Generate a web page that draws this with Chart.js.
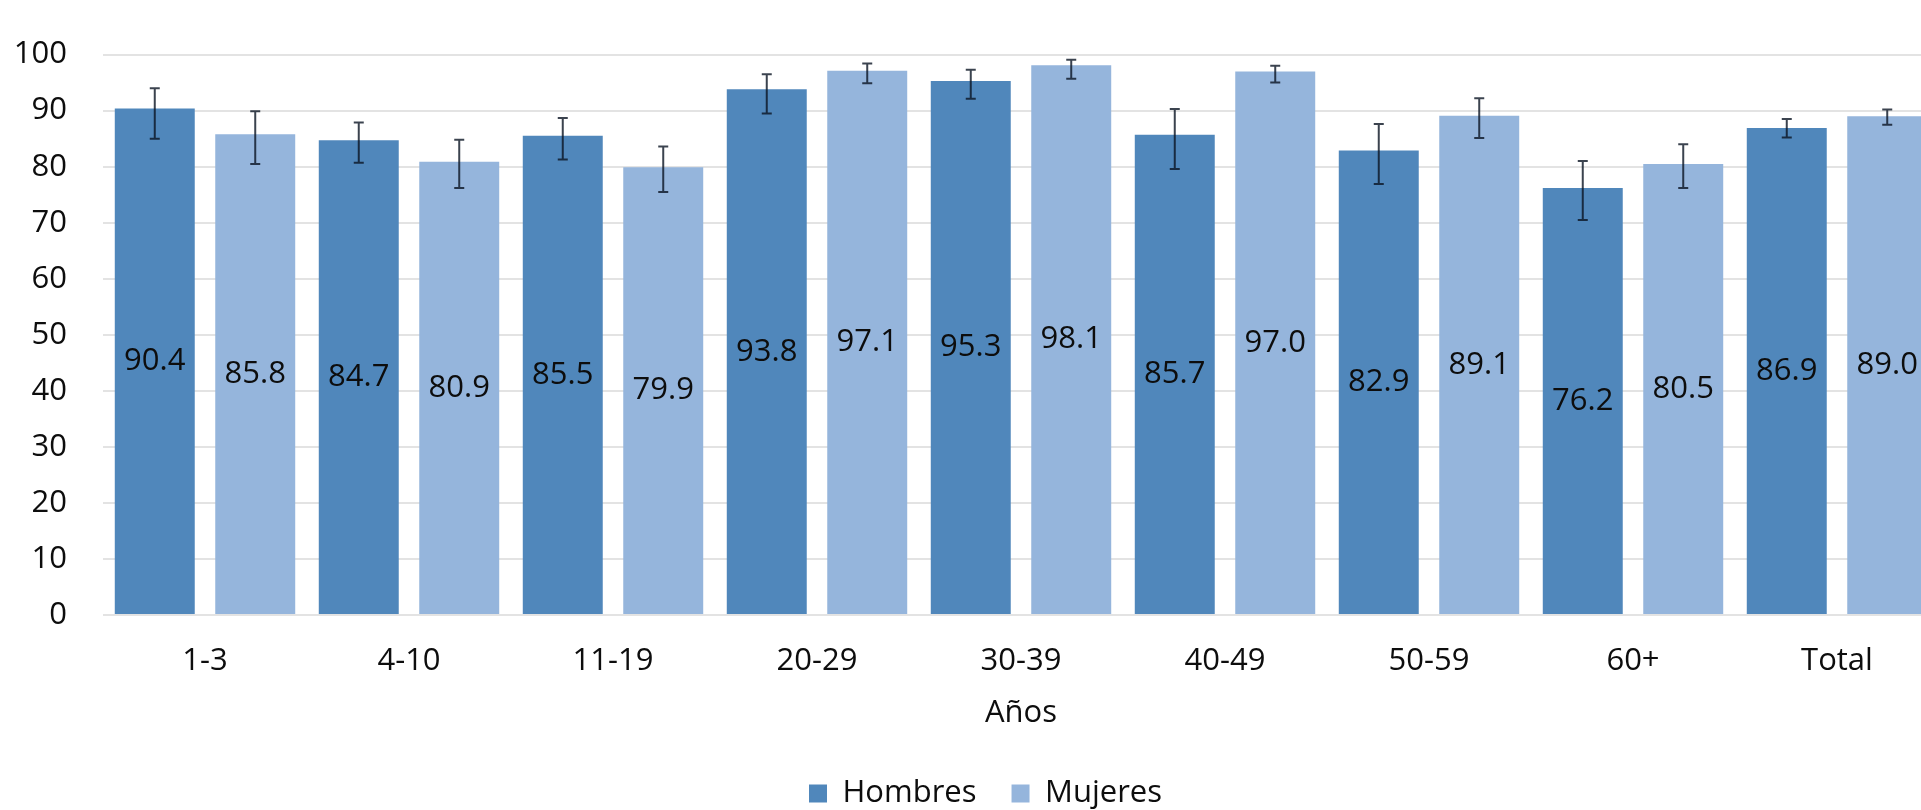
<!DOCTYPE html>
<html>
<head>
<meta charset="utf-8">
<script src="https://cdn.jsdelivr.net/npm/chart.js@4.4.1/dist/chart.umd.min.js"></script>
<style>
  html, body { margin: 0; padding: 0; background: #fff; overflow: hidden; }
  #wrap { width: 1970px; height: 810px; }
</style>
</head>
<body>
<div id="wrap"><canvas id="chart" width="1970" height="810"></canvas></div>
<script>
const categories  = ['1-3', '4-10', '11-19', '20-29', '30-39', '40-49', '50-59', '60+', 'Total'];
const hombres     = [90.4, 84.7, 85.5, 93.8, 95.3, 85.7, 82.9, 76.2, 86.9];
const mujeres     = [85.8, 80.9, 79.9, 97.1, 98.1, 97.0, 89.1, 80.5, 89.0];
// error bar bounds
const hombresLow  = [85.0, 80.7, 81.3, 89.5, 92.1, 79.6, 76.9, 70.5, 85.2];
const hombresHigh = [94.0, 87.9, 88.7, 96.5, 97.3, 90.3, 87.6, 81.0, 88.5];
const mujeresLow  = [80.5, 76.2, 75.5, 94.9, 95.7, 95.0, 85.1, 76.2, 87.5];
const mujeresHigh = [89.9, 84.8, 83.6, 98.4, 99.1, 98.0, 92.2, 84.0, 90.2];
const yTicks      = [0, 10, 20, 30, 40, 50, 60, 70, 80, 90, 100];

const FONT = 'Open Sans';
const SIZE = 31;
const TEXT = '#0d0d0d';

const errorBars = {
  id: 'errorBars',
  afterDatasetsDraw(chart) {
    const { ctx } = chart;
    const y = chart.scales.y;
    const bounds = [[hombresLow, hombresHigh], [mujeresLow, mujeresHigh]];
    ctx.save();
    ctx.strokeStyle = 'rgba(10, 20, 35, 0.8)';
    ctx.lineWidth = 2;
    bounds.forEach(([lo, hi], i) => {
      chart.getDatasetMeta(i).data.forEach((bar, j) => {
        const top = y.getPixelForValue(hi[j]);
        const bot = y.getPixelForValue(lo[j]);
        ctx.beginPath();
        ctx.moveTo(bar.x, top); ctx.lineTo(bar.x, bot);
        ctx.moveTo(bar.x - 5, top); ctx.lineTo(bar.x + 5, top);
        ctx.moveTo(bar.x - 5, bot); ctx.lineTo(bar.x + 5, bot);
        ctx.stroke();
      });
    });
    ctx.restore();
  }
};

const barLabels = {
  id: 'barLabels',
  afterDatasetsDraw(chart) {
    const { ctx } = chart;
    ctx.save();
    ctx.font = `${SIZE}px "${FONT}"`;
    ctx.fillStyle = TEXT;
    ctx.textAlign = 'center';
    ctx.textBaseline = 'middle';
    chart.data.datasets.forEach((ds, i) => {
      chart.getDatasetMeta(i).data.forEach((bar, j) => {
        ctx.fillText(ds.data[j].toFixed(1), bar.x, (bar.y + bar.base) / 2);
      });
    });
    ctx.restore();
  }
};

// the original legend sits centred on the whole chart box, a little right of ours
const legendShift = {
  id: 'legendShift',
  afterLayout(chart) {
    chart.legend.left += 16;
    chart.legend.right += 16;
  }
};

new Chart(document.getElementById('chart'), {
  type: 'bar',
  data: {
    labels: categories,
    datasets: [
      { label: 'Hombres', data: hombres, backgroundColor: '#5087bb' },
      { label: 'Mujeres', data: mujeres, backgroundColor: '#95b5dc' }
    ]
  },
  options: {
    responsive: false,
    animation: false,
    devicePixelRatio: 1,
    categoryPercentage: 0.985,
    barPercentage: 0.796,
    layout: { autoPadding: false, padding: { top: 30, right: 31, bottom: 0, left: 0 } },
    plugins: {
      tooltip: { enabled: false },
      legend: {
        position: 'bottom',
        maxHeight: 67,
        labels: {
          font: { family: FONT, size: SIZE },
          color: TEXT,
          boxWidth: 18,
          boxHeight: 18,
          padding: 35
        }
      }
    },
    scales: {
      x: {
        grid: { display: false, drawTicks: false },
        border: { display: false },
        ticks: { font: { family: FONT, size: SIZE }, color: TEXT, padding: 28 },
        title: { display: true, text: 'Años', font: { family: FONT, size: SIZE }, color: TEXT, padding: { top: 0, bottom: 11 } },
        afterFit(scale) { scale.height = 128; }
      },
      y: {
        min: 0,
        max: 100,
        afterBuildTicks(scale) { scale.ticks = yTicks.map(v => ({ value: v })); },
        grid: { color: '#e3e3e3', lineWidth: 2, drawTicks: false },
        border: { display: false },
        ticks: { font: { family: FONT, size: SIZE }, color: TEXT, padding: 36 },
        afterFit(scale) { scale.width = 103; }
      }
    }
  },
  plugins: [errorBars, barLabels, legendShift]
});
</script>
</body>
</html>
